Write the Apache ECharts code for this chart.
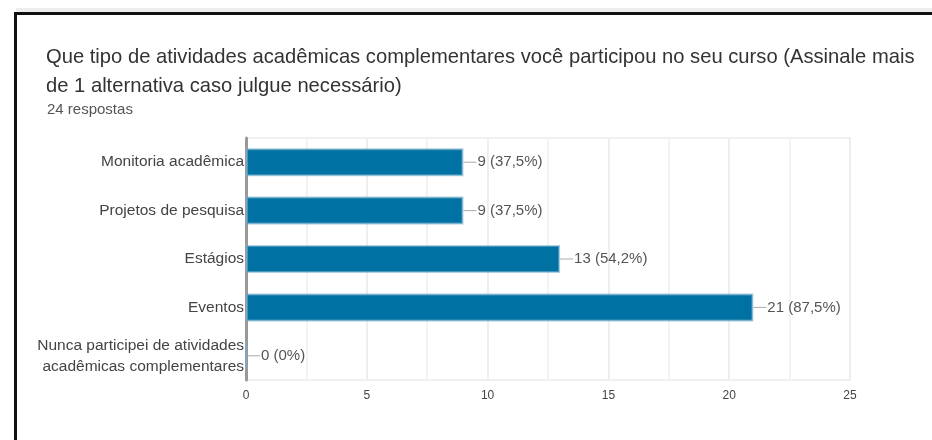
<!DOCTYPE html>
<html>
<head>
<meta charset="utf-8">
<script src="https://cdn.jsdelivr.net/npm/echarts@6/dist/echarts.min.js"></script>
<style>
  html, body { margin: 0; padding: 0; background: #fff; }
  #chart { width: 932px; height: 440px; }
</style>
</head>
<body>
<div id="chart"></div>
<script>
const categories = [
    "Monitoria acadêmica",
    "Projetos de pesquisa",
    "Estágios",
    "Eventos",
    "Nunca participei de atividades\nacadêmicas complementares",
]
const counts = [9, 9, 13, 21, 0]
const percents = ["37,5%", "37,5%", "54,2%", "87,5%", "0%"]
const totalAnswers = "24 respostas"

const chart = echarts.init(document.getElementById("chart"), null, { renderer: "canvas" })

const option = {
    animation: false,
    textStyle: { fontFamily: "'Liberation Sans', Arial, sans-serif" },
    title: [
        {
            text: "Que tipo de atividades acadêmicas complementares você participou no seu curso (Assinale mais\nde 1 alternativa caso julgue necessário)",
            left: 41,
            top: 38,
            textStyle: { fontSize: 20.2, fontWeight: "normal", color: "#333", lineHeight: 29 },
        },
        {
            text: totalAnswers,
            left: 42,
            top: 97,
            textStyle: { fontSize: 15, fontWeight: "normal", color: "#555" },
        },
    ],
    graphic: [
        { type: "rect", shape: { x: 16, y: 8, width: 916, height: 4 }, style: { fill: "#eeeeee" } },
        { type: "rect", shape: { x: 14, y: 12, width: 918, height: 3 }, style: { fill: "#111" } },
        { type: "rect", shape: { x: 14, y: 12, width: 3, height: 428 }, style: { fill: "#111" } },
    ],
    grid: { left: 246, right: 82, top: 138, bottom: 60, show: true, borderColor: "#f0f0f0", borderWidth: 2 },
    xAxis: {
        type: "value",
        min: 0,
        max: 25,
        interval: 5,
        axisLine: { show: false },
        axisTick: { show: false },
        axisLabel: { color: "#444", fontSize: 12, margin: 10 },
        splitLine: { show: true, lineStyle: { color: "#eeeeee", width: 2 } },
        minorTick: { show: false, splitNumber: 2 },
        minorSplitLine: { show: true, lineStyle: { color: "#f3f3f3", width: 2 } },
    },
    yAxis: {
        type: "category",
        inverse: true,
        data: categories,
        axisLine: { show: true, lineStyle: { color: "#999", width: 3 } },
        axisTick: { show: false },
        axisLabel: { color: "#444", fontSize: 15.5, margin: 2, lineHeight: 21 },
        splitLine: { show: false },
    },
    series: [
        {
            type: "bar",
            data: counts,
            barWidth: 28,
            itemStyle: { color: "#0071a3", borderColor: "rgba(120,175,205,0.6)", borderWidth: 2 },
            label: {
                show: true,
                position: "right",
                distance: 0,
                formatter: (p) => "{l|}{t|" + p.value + " (" + percents[p.dataIndex] + ")}",
                rich: {
                    l: { width: 13, height: 1, backgroundColor: "#aaa" },
                    t: { color: "#555", fontSize: 15, padding: [0, 0, 0, 1] },
                },
            },
        },
    ],
}

chart.setOption(option)
</script>
</body>
</html>
